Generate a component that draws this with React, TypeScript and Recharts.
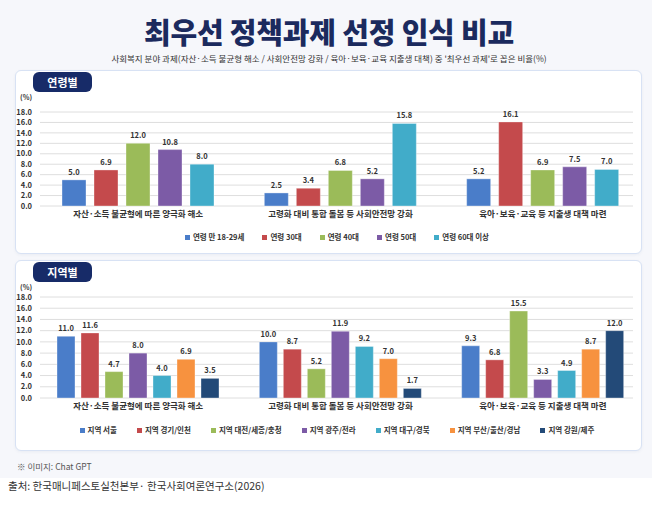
import React from 'react';
import { BarChart, Bar, XAxis, YAxis, CartesianGrid, LabelList } from 'recharts';

const categories = [
  '자산·소득 불균형에 따른 양극화 해소',
  '고령화 대비 통합 돌봄 등 사회안전망 강화',
  '육아·보육·교육 등 지출생 대책 마련',
];

const yTicks = [0, 2, 4, 6, 8, 10, 12, 14, 16, 18];

// 연령별
const ageNames = ['연령 만 18-29세', '연령 30대', '연령 40대', '연령 50대', '연령 60대 이상'];
const age1829 = [5.0, 2.5, 5.2];
const age30 = [6.9, 3.4, 16.1];
const age40 = [12.0, 6.8, 6.9];
const age50 = [10.8, 5.2, 7.5];
const age60 = [8.0, 15.8, 7.0];
const ageColors = ['#4a7dc9', '#c44a4c', '#9bbb59', '#7c5ba6', '#41acc9'];

// 지역별
const regionNames = [
  '지역 서울',
  '지역 경기/인천',
  '지역 대전/세종/충청',
  '지역 광주/전라',
  '지역 대구/경북',
  '지역 부산/울산/경남',
  '지역 강원/제주',
];
const seoul = [11.0, 10.0, 9.3];
const gyeonggi = [11.6, 8.7, 6.8];
const chungcheong = [4.7, 5.2, 15.5];
const jeolla = [8.0, 11.9, 3.3];
const gyeongbuk = [4.0, 9.2, 4.9];
const gyeongnam = [6.9, 7.0, 8.7];
const gangwon = [3.5, 1.7, 12.0];
const regionColors = ['#4a7dc9', '#c44a4c', '#9bbb59', '#7c5ba6', '#41acc9', '#f7923f', '#234a78'];

const FONT = "'Noto Sans CJK KR', 'Noto Sans', sans-serif";

const buildRows = (series: number[][]) =>
  categories.map((name, i) => {
    const row: Record<string, string | number> = { name };
    series.forEach((s, k) => {
      row[`s${k}`] = s[i];
    });
    return row;
  });

const ageRows = buildRows([age1829, age30, age40, age50, age60]);
const regionRows = buildRows([seoul, gyeonggi, chungcheong, jeolla, gyeongbuk, gyeongnam, gangwon]);

const Panel = ({ top, height, title }: { top: number; height: number; title: string }) => (
  <>
    <div
      style={{
        position: 'absolute',
        left: 15,
        top,
        width: 625,
        height,
        background: '#fff',
        border: '1px solid #d8e2f4',
        borderRadius: 6,
        boxShadow: '0 1px 3px rgba(40,60,120,0.06)',
      }}
    />
    <div
      style={{
        position: 'absolute',
        left: 33,
        top: top + 2,
        width: 59,
        height: 20,
        background: '#172b68',
        borderRadius: 6,
        color: '#fff',
        fontSize: 11,
        fontWeight: 700,
        lineHeight: '20px',
        textAlign: 'center',
      }}
    >
      {title}
    </div>
    <div style={{ position: 'absolute', left: 20, top: top + 22, fontSize: 7, fontWeight: 700, color: '#333' }}>
      (%)
    </div>
  </>
);

const LegendRow = ({ names, colors, top, gap }: { names: string[]; colors: string[]; top: number; gap: number }) => (
  <div
    style={{
      position: 'absolute',
      left: 15,
      width: 644,
      top,
      display: 'flex',
      justifyContent: 'center',
      gap,
      fontSize: 7.5,
      fontWeight: 700,
      color: '#333',
      lineHeight: '12px',
    }}
  >
    {names.map((n, i) => (
      <span key={n} style={{ display: 'flex', alignItems: 'center' }}>
        <span style={{ width: 5, height: 5, background: colors[i], marginRight: 3, display: 'inline-block' }} />
        {n}
      </span>
    ))}
  </div>
);

const GroupChart = ({
  rows,
  colors,
  height,
  plotTop,
  barSize,
  barGap,
}: {
  rows: Record<string, string | number>[];
  colors: string[];
  height: number;
  plotTop: number;
  barSize: number;
  barGap: number;
}) => (
  <BarChart
    width={658}
    height={height}
    data={rows}
    margin={{ top: plotTop, right: 25, left: 10, bottom: 0 }}
    barSize={barSize}
    barGap={barGap}
    style={{ position: 'absolute', left: 0, top: 0 }}
  >
    <CartesianGrid vertical={false} stroke="#dedede" />
    <XAxis
      dataKey="name"
      axisLine={false}
      tickLine={false}
      tickSize={0}
      tickMargin={5}
      height={20}
      interval={0}
      padding={{ left: -3, right: -11 }}
      tick={{ fontSize: 8.5, fontWeight: 700, fill: '#333', fontFamily: FONT }}
    />
    <YAxis
      width={30}
      domain={[0, 18]}
      ticks={yTicks}
      interval={0}
      axisLine={false}
      tickLine={false}
      tickFormatter={(v: number) => v.toFixed(1)}
      tick={{ fontSize: 7.5, fontWeight: 700, fill: '#333', fontFamily: FONT }}
    />
    {colors.map((c, k) => (
      <Bar
        key={k}
        dataKey={`s${k}`}
        fill={c}
        stroke="#ffffff"
        strokeOpacity={0.35}
        isAnimationActive={false}
      >
        <LabelList
          dataKey={`s${k}`}
          position="top"
          offset={5}
          formatter={(v: number) => Number(v).toFixed(1)}
          style={{ fontSize: 7.5, fontWeight: 700, fill: '#333', fontFamily: FONT }}
        />
      </Bar>
    ))}
  </BarChart>
);

export default function App() {
  return (
    <div
      style={{
        position: 'absolute',
        left: 0,
        top: 0,
        width: 658,
        height: 510,
        background: '#fff',
        fontFamily: FONT,
        overflow: 'hidden',
      }}
    >
      <div style={{ position: 'absolute', left: 0, top: 0, width: 652, height: 478, background: '#f6f7fb' }} />
      <div
        style={{
          position: 'absolute',
          left: 0,
          width: 658,
          top: 13,
          height: 36,
          lineHeight: '36px',
          textAlign: 'center',
          fontSize: 29,
          fontWeight: 900,
          color: '#1b2a5e',
          letterSpacing: -0.2,
        }}
      >
        최우선 정책과제 선정 인식 비교
      </div>
      <div
        style={{
          position: 'absolute',
          left: 0,
          width: 658,
          top: 52,
          lineHeight: '12px',
          textAlign: 'center',
          fontSize: 8.5,
          color: '#333',
        }}
      >
        사회복지 분야 과제(자산·소득 불균형 해소 / 사회안전망 강화 / 육아·보육·교육 지출생 대책) 중 '최우선 과제'로 꼽은 비율(%)
      </div>

      <Panel top={70} height={182} title="연령별" />
      <GroupChart rows={ageRows} colors={ageColors} height={226} plotTop={112} barSize={24} barGap={8} />
      <LegendRow names={ageNames} colors={ageColors} top={231} gap={18} />

      <Panel top={260} height={189} title="지역별" />
      <GroupChart rows={regionRows} colors={regionColors} height={418} plotTop={297} barSize={18} barGap={6} />
      <LegendRow names={regionNames} colors={regionColors} top={424} gap={20} />

      <div style={{ position: 'absolute', left: 17, top: 460, fontSize: 8.5, color: '#555' }}>※ 이미지: Chat GPT</div>
      <div style={{ position: 'absolute', left: 8, top: 478, fontSize: 10.5, color: '#333' }}>
        출처: 한국매니페스토실천본부· 한국사회여론연구소(2026)
      </div>
    </div>
  );
}
